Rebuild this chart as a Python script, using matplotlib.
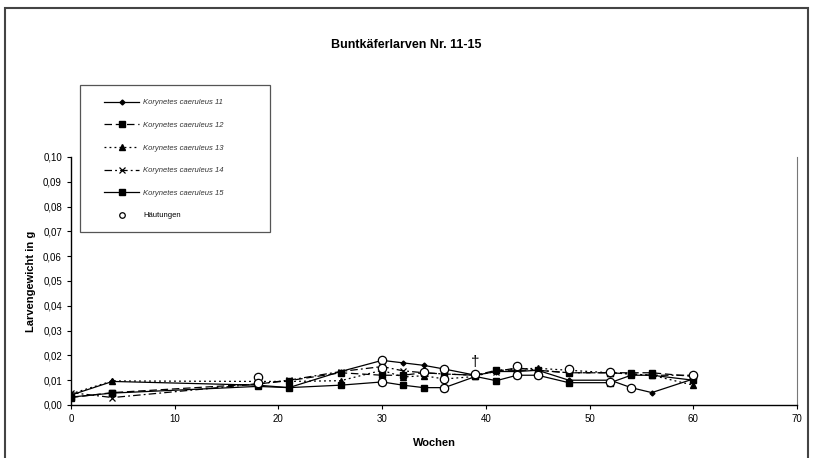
import numpy as np
import matplotlib
matplotlib.use("Agg")
import matplotlib.pyplot as plt
from matplotlib.patches import Rectangle
from matplotlib.lines import Line2D

# data (weeks / larval weight in g)
weeks = [0, 4, 18, 21, 26, 30, 32, 34, 36, 39, 41, 43, 45, 48, 52, 54, 56, 60]
k11 = [0.0040, 0.0095, 0.0080, 0.0070, 0.0135, 0.0180, 0.0170, 0.0160, 0.0145, 0.0120,
       0.0135, 0.0135, 0.0140, 0.0100, 0.0100, 0.0070, 0.0050, 0.0105]
k12 = [0.0030, 0.0050, 0.0085, 0.0098, 0.0130, 0.0120, 0.0120, 0.0130, 0.0125, 0.0120,
       0.0140, 0.0140, 0.0140, 0.0130, 0.0130, 0.0130, 0.0130, 0.0115]
k13 = [0.0045, 0.0097, 0.0095, 0.0095, 0.0098, 0.0140, 0.0113, 0.0118, 0.0105, 0.0115,
       0.0140, 0.0145, 0.0148, 0.0140, 0.0130, 0.0125, 0.0120, 0.0080]
k14 = [0.0050, 0.0030, 0.0085, 0.0100, 0.0135, 0.0155, 0.0138, 0.0130, 0.0125, 0.0120,
       0.0135, 0.0150, 0.0140, 0.0130, 0.0130, 0.0125, 0.0120, 0.0120]
k15 = [0.0032, 0.0048, 0.0075, 0.0070, 0.0080, 0.0093, 0.0080, 0.0070, 0.0070, 0.0115,
       0.0098, 0.0120, 0.0120, 0.0090, 0.0090, 0.0120, 0.0120, 0.0100]

# moults (open circles)
molt_w = [18, 18, 30, 30, 30, 34, 36, 36, 36, 39, 43, 43, 45, 48, 52, 52, 54, 60]
molt_g = [0.0113, 0.0088, 0.0180, 0.0148, 0.0093, 0.0135, 0.0145, 0.0105, 0.0070, 0.0123,
          0.0158, 0.0121, 0.0121, 0.0145, 0.0135, 0.0093, 0.0070, 0.0122]

# death marker
dagger_w, dagger_g = 39, 0.0175

series_labels = ["Korynetes caeruleus 11", "Korynetes caeruleus 12", "Korynetes caeruleus 13",
                 "Korynetes caeruleus 14", "Korynetes caeruleus 15"]

plt.rcParams["font.family"] = ["Liberation Sans", "DejaVu Sans"]

W, H = 813, 458
fig = plt.figure(figsize=(W / 100, H / 100), dpi=100)
ax = fig.add_axes([71 / W, 1 - 405 / H, 726 / W, 248 / H])

# chart border + legend box (figure pixels)
fig.patches.append(Rectangle((5 / W, -0.01), 803 / W, 1.01 - 8 / H, transform=fig.transFigure,
                             fill=False, edgecolor="#444444", linewidth=1.5))
fig.patches.append(Rectangle((80 / W, 1 - 232 / H), 190 / W, 147 / H, transform=fig.transFigure,
                             fill=False, edgecolor="#555555", linewidth=0.9, zorder=5))

lw = 0.9
ax.plot(weeks, k11, color="black", lw=lw, ls="-", marker="D", ms=2.5, label=series_labels[0])
ax.plot(weeks, k12, color="black", lw=lw, ls=(0, (6, 3)), marker="s", ms=4, label=series_labels[1])
ax.plot(weeks, k13, color="black", lw=lw, ls=(0, (1.5, 2.5)), marker="^", ms=4, label=series_labels[2])
ax.plot(weeks, k14, color="black", lw=lw, ls=(0, (6, 2.5, 1.5, 2.5)), marker="x", ms=4, mew=0.9,
        label=series_labels[3])
ax.plot(weeks, k15, color="black", lw=lw, ls="-", marker="s", ms=4.5, label=series_labels[4])
ax.plot(molt_w, molt_g, ls="none", marker="o", ms=6, mfc="white", mec="black", mew=0.9)
ax.text(dagger_w, dagger_g, "†", ha="center", va="center", fontsize=11)

ax.set_xlim(0, 70)
ax.set_ylim(0, 0.10)
ax.set_xticks(np.arange(0, 71, 10))
ax.set_yticks(np.arange(0, 0.101, 0.01))
ax.set_yticklabels([f"{v:.2f}".replace(".", ",") for v in np.arange(0, 0.101, 0.01)])
ax.tick_params(labelsize=7, length=3, direction="out")
ax.spines["top"].set_visible(False)
ax.spines["right"].set_color("#777777")
ax.spines["left"].set_linewidth(1.0)
ax.spines["bottom"].set_linewidth(1.0)

ax.set_xlabel("Wochen", fontsize=8, fontweight="bold", labelpad=10)
ax.set_ylabel("Larvengewicht in g", fontsize=8, fontweight="bold", labelpad=5)
fig.text(0.5, 1 - 45 / H, "Buntkäferlarven Nr. 11-15", ha="center", va="center",
         fontsize=9, fontweight="bold")

# legend (small moult marker as in the original)
handles, labels = ax.get_legend_handles_labels()
handles.append(Line2D([], [], ls="none", marker="o", ms=4, mfc="white", mec="black", mew=0.9))
labels.append("Häutungen")
leg = fig.legend(handles, labels, loc="upper left", bbox_to_anchor=(104 / W, 1 - 99 / H),
                 fontsize=5.5, frameon=False, labelspacing=2.0, handlelength=4.6,
                 handletextpad=0.5, borderpad=0, borderaxespad=0)
for t in leg.get_texts()[:5]:
    t.set_fontstyle("italic")
    t.set_color("#333333")

fig.savefig("out.png", dpi=100)
